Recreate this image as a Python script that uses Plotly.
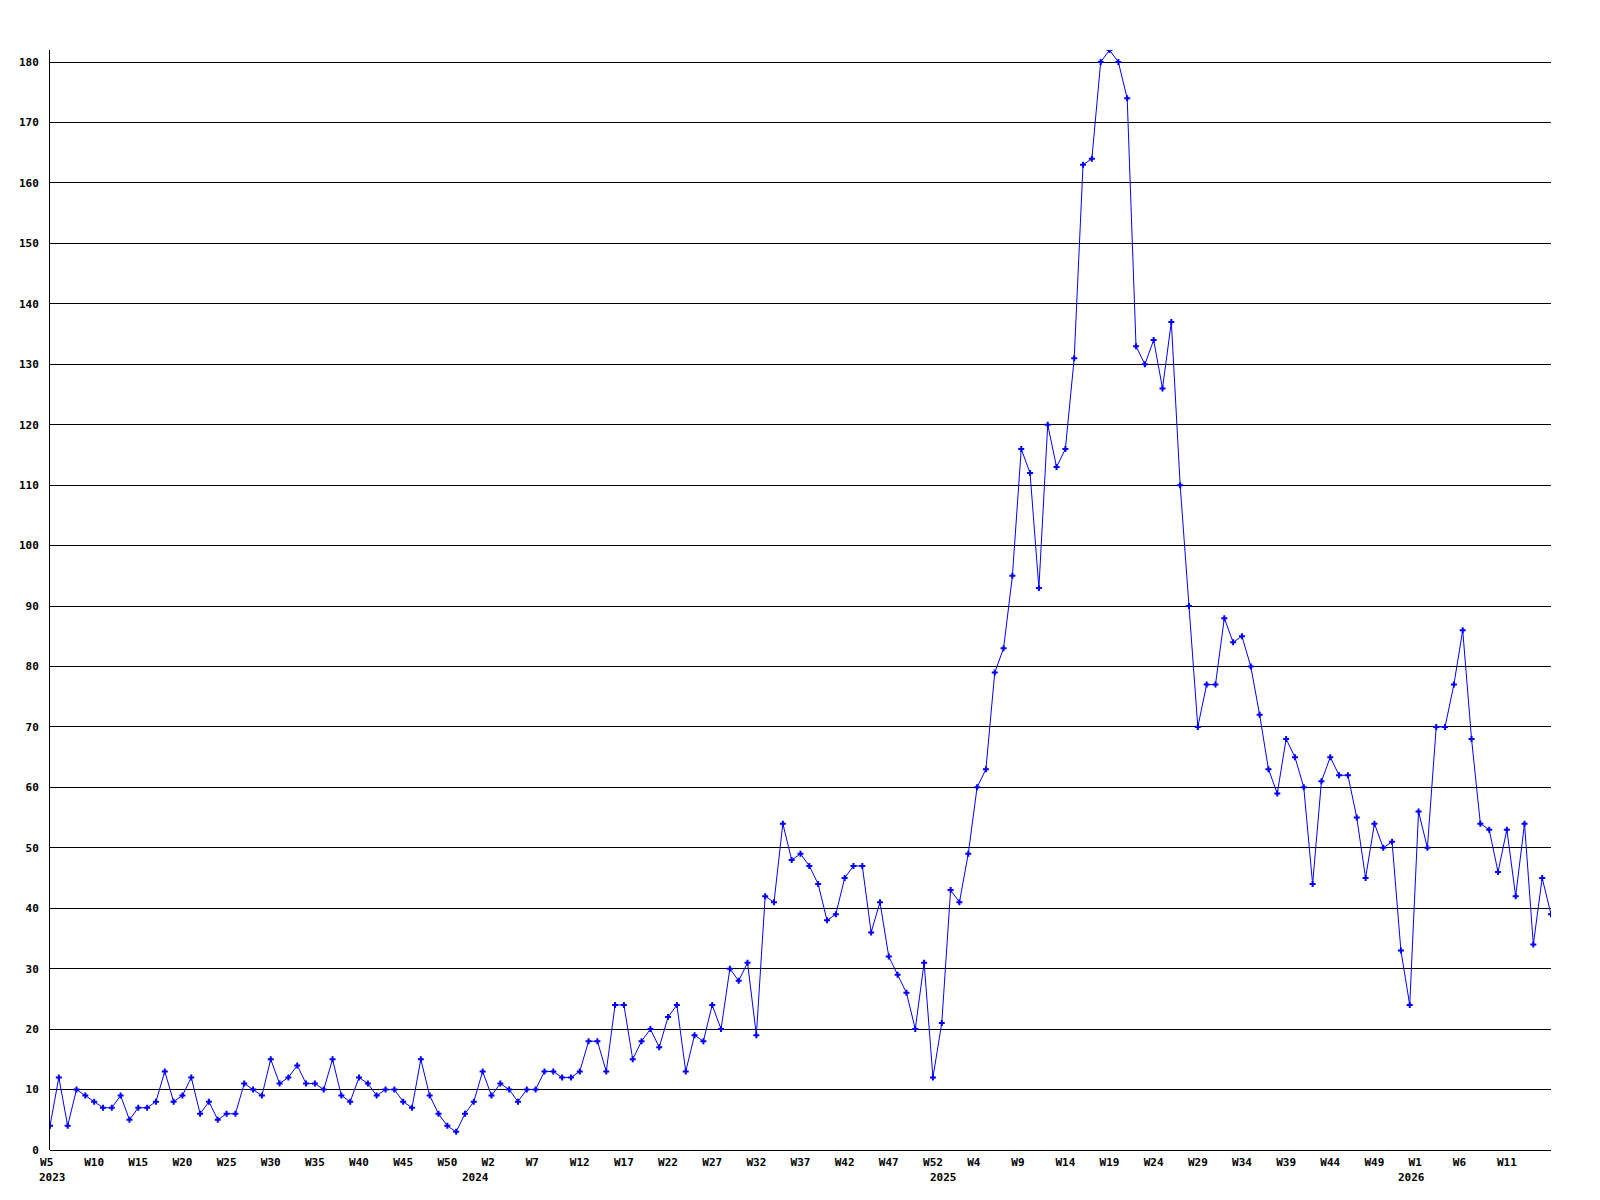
import plotly.graph_objects as go

# Weekly counts, 2023 W5 .. 2026 W16 (53 week slots per year)
counts = [
    4, 12, 4, 10, 9, 8, 7, 7, 9, 5, 7, 7, 8, 13, 8, 9, 12, 6, 8, 5, 6, 6, 11, 10, 9,
    15, 11, 12, 14, 11, 11, 10, 15, 9, 8, 12, 11, 9, 10, 10, 8, 7, 15,
    9, 6, 4, 3, 6, 8, 13, 9, 11, 10, 8, 10, 10, 13, 13, 12, 12, 13, 18, 18, 13,
    24, 24, 15, 18, 20, 17, 22, 24,
    13, 19, 18, 24, 20, 30, 28, 31, 19, 42, 41, 54, 48, 49, 47, 44, 38, 39, 45, 47,
    47, 36, 41, 32, 29, 26, 20, 31, 12, 21, 43, 41, 49, 60,
    63, 79, 83, 95, 116, 112, 93, 120, 113, 116, 131, 163, 164, 180, 182, 180, 174,
    133, 130, 134, 126, 137, 110, 90, 70,
    77, 77, 88, 84, 85, 80, 72, 63, 59, 68, 65, 60, 44, 61, 65, 62, 62, 55, 45, 54,
    50, 51, 33, 24, 56, 50, 70, 70, 77, 86, 68, 54, 53, 46, 53, 42, 54, 34, 45, 39,
]

tick_weeks = [
    "W5", "W10", "W15", "W20", "W25", "W30", "W35", "W40", "W45", "W50",
    "W2", "W7", "W12", "W17", "W22", "W27", "W32", "W37", "W42", "W47", "W52",
    "W4", "W9", "W14", "W19", "W24", "W29", "W34", "W39", "W44", "W49",
    "W1", "W6", "W11",
]
# year labels and the slot index where each year starts (2023 data starts at W5)
years = ["2023", "2024", "2025", "2026"]
year_start = [0, 49, 102, 155]

NB = "\u00a0"
x_idx = list(range(len(counts)))
tickvals = [i * 5 for i in range(len(tick_weeks))]
ticktext = ["<b>" + w + NB * (3 - len(w)) + "</b>" for w in tick_weeks]

fig = go.Figure()
fig.add_trace(go.Scatter(
    x=x_idx, y=counts, mode="lines+markers",
    line=dict(color="#0000ff", width=1),
    marker=dict(symbol="cross", size=5, color="#0000ff"),
    showlegend=False, hoverinfo="skip",
))

font = dict(family="DejaVu Sans Mono", size=11, color="black")

for yr, xs in zip(years, year_start):
    fig.add_annotation(
        x=xs, xref="x", y=0, yref="paper", text="<b>" + yr + "</b>",
        showarrow=False, xanchor="left", yanchor="middle", borderpad=0,
        xshift=-12 if xs == 0 else -22, yshift=-27, font=font,
    )

fig.update_layout(
    width=1600, height=1200,
    margin=dict(l=50, r=49, t=50, b=50),
    paper_bgcolor="white", plot_bgcolor="white",
    xaxis=dict(
        range=[0, len(counts) - 1], tickmode="array", tickvals=tickvals, ticktext=ticktext,
        showgrid=False, zeroline=False, showline=False, ticks="",
        tickfont=font, tickangle=0, ticklabelstandoff=4,
    ),
    yaxis=dict(
        range=[0, 182], tick0=0, dtick=10, showgrid=True, gridcolor="black", gridwidth=1,
        zeroline=True, zerolinecolor="black", zerolinewidth=1,
        showline=True, linecolor="black", linewidth=1, ticks="",
        tickfont=dict(font, weight="bold"), ticklabelstandoff=8,
    ),
)

fig.write_html("out.html", config={"displayModeBar": False},
               post_script="document.body.style.margin='0';")
